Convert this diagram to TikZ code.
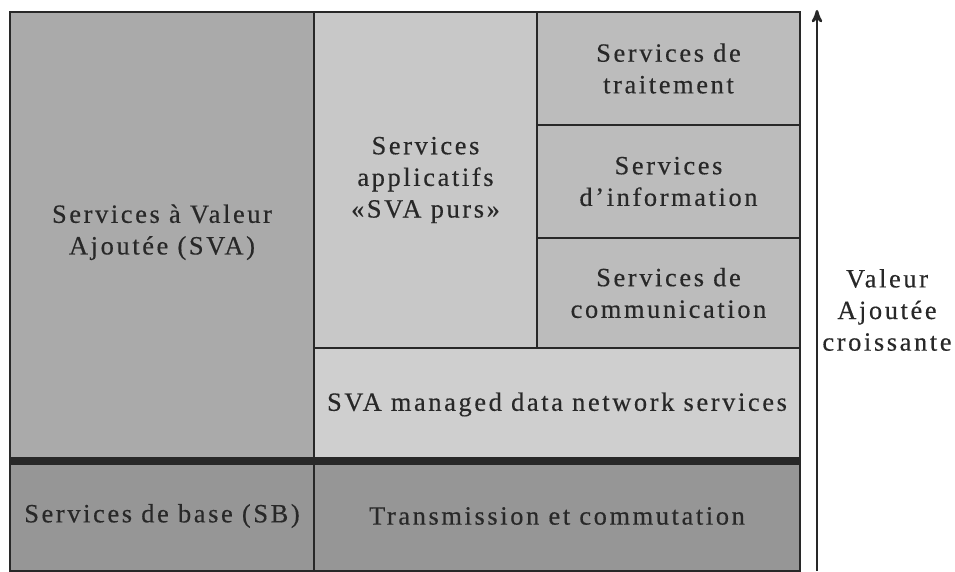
\documentclass[tikz,border=0pt]{standalone}
\usepackage{fontspec}
\setmainfont{Liberation Serif}[LetterSpace=10,FakeBold=0.4]
\usetikzlibrary{arrows}
\definecolor{grisSVA}{RGB}{170,170,170}
\definecolor{grisApp}{RGB}{200,200,200}
\definecolor{grisDroite}{RGB}{188,188,188}
\definecolor{grisReseau}{RGB}{207,207,207}
\definecolor{grisBase}{RGB}{150,150,150}
\definecolor{encre}{RGB}{40,40,40}
\tikzset{
  cell/.style = {draw=encre, line width=0.8pt, inner sep=0pt, outer sep=0pt,
    align=center, text=encre, font=\fontsize{15}{18}\selectfont},
  droite/.style = {cell, fill=grisDroite, minimum width=5.26cm},
  basse/.style = {cell, fill=grisBase, minimum height=2.2cm}}

\begin{document}
\begin{tikzpicture}[->,>=stealth']
\useasboundingbox (0,0) rectangle (19.1,11.42);

\node [cell, fill=grisSVA, minimum width=6.08cm, minimum height=8.98cm] (sva) at (3.24,6.69)
  {Services à Valeur\\Ajoutée (SVA)\\[-10pt]};
\node [cell, fill=grisApp, minimum width=4.46cm, minimum height=6.72cm] (app) at (8.51,7.82)
  {Services\\applicatifs\\«SVA purs»};
\node [droite, minimum height=2.26cm] (trait) at (13.37,10.05) {Services de\\traitement};
\node [droite, minimum height=2.26cm] (info) at (13.37,7.79) {Services\\d’information};
\node [droite, minimum height=2.2cm] (comm) at (13.37,5.56) {Services de\\communication};
\node [cell, fill=grisReseau, minimum width=9.72cm, minimum height=2.26cm] (reseau) at (11.14,3.33)
  {SVA managed data network services};
\node [basse, minimum width=6.08cm] (sb) at (3.24,1.1) {Services de base (SB)};
\node [basse, minimum width=9.72cm] (trans) at (11.14,1.1) {Transmission et commutation};

% separation SVA / SB
\draw [-, encre, line width=4.5pt] (sb.north west) -- (trans.north east);

% axe de la valeur ajoutee
\coordinate (bas) at (16.34,0);
\coordinate (haut) at (16.34,11.22);
\draw [encre, line width=1.4pt] (bas) -- (haut);
\node [align=center, text=encre, font=\fontsize{15}{18}\selectfont] (axe) at (17.74,5.22)
  {Valeur\\Ajoutée\\croissante};
\end{tikzpicture}
\end{document}
